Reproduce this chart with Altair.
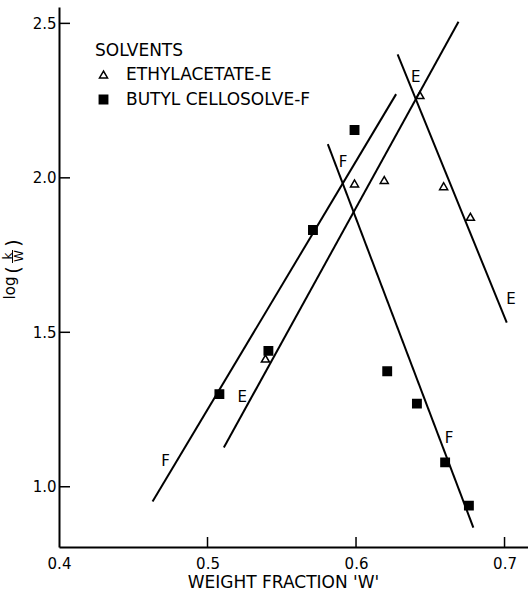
import altair as alt
import pandas as pd

# --- data ---
series_names = ["ETHYLACETATE-E", "BUTYL CELLOSOLVE-F"]

tri_x = [0.539, 0.599, 0.619, 0.643, 0.659, 0.677]
tri_y = [1.415, 1.982, 1.993, 2.268, 1.973, 1.874]

sq_x = [0.508, 0.541, 0.571, 0.599, 0.621, 0.641, 0.660, 0.676]
sq_y = [1.300, 1.440, 1.831, 2.155, 1.374, 1.269, 1.079, 0.939]

line_x1 = [0.463, 0.511, 0.581, 0.628]
line_y1 = [0.952, 1.127, 2.109, 2.400]
line_x2 = [0.627, 0.669, 0.679, 0.7015]
line_y2 = [2.271, 2.505, 0.868, 1.531]

lab_text = ["F", "E", "F", "E", "E", "F"]
lab_x = [0.4718, 0.5234, 0.5912, 0.6402, 0.7044, 0.6626]
lab_y = [1.083, 1.290, 2.052, 2.325, 1.607, 1.157]

x_ticks = [0.4, 0.5, 0.6, 0.7]
y_ticks = [1.0, 1.5, 2.0, 2.5]

x_domain = [0.4, 0.7158]
y_domain = [0.805, 2.553]

W, H = 469, 540
FONT = "DejaVu Sans"

pts = pd.DataFrame({
    "x": tri_x + sq_x,
    "y": tri_y + sq_y,
    "solvent": [series_names[0]] * len(tri_x) + [series_names[1]] * len(sq_x),
})
segs = pd.DataFrame({"x": line_x1, "y": line_y1, "x2": line_x2, "y2": line_y2})
labs = pd.DataFrame({"t": lab_text, "x": lab_x, "y": lab_y})
xt = pd.DataFrame({"v": x_ticks[1:]})
yt = pd.DataFrame({"v": y_ticks})

xs = alt.Scale(domain=x_domain, nice=False, zero=False)
ys = alt.Scale(domain=y_domain, nice=False, zero=False)

xaxis = alt.Axis(values=x_ticks, format=".1f", labelFlush=False, labelPadding=9,
                 title="WEIGHT FRACTION 'W'", titleX=224, titlePadding=3)
yaxis = alt.Axis(values=y_ticks, format=".1f", labelPadding=3, title=None)

legend = alt.Legend(title="SOLVENTS", orient="none", legendX=36, legendY=36,
                    labelOffset=14, rowPadding=7, titlePadding=6, labelLimit=400,
                    symbolStrokeWidth=1.5, padding=0)

lines = alt.Chart(segs).mark_rule(color="black", strokeWidth=2).encode(
    x=alt.X("x:Q", scale=xs, axis=xaxis),
    y=alt.Y("y:Q", scale=ys, axis=yaxis),
    x2="x2:Q", y2="y2:Q",
)

points = alt.Chart(pts).mark_point(filled=True, strokeWidth=1.5, opacity=1).encode(
    x=alt.X("x:Q", scale=xs),
    y=alt.Y("y:Q", scale=ys),
    shape=alt.Shape("solvent:N", scale=alt.Scale(domain=series_names, range=["triangle-up", "square"]), legend=legend),
    fill=alt.Fill("solvent:N", scale=alt.Scale(domain=series_names, range=["transparent", "black"]), legend=legend),
    stroke=alt.Stroke("solvent:N", scale=alt.Scale(domain=series_names, range=["black", "black"]), legend=legend),
    size=alt.Size("solvent:N", scale=alt.Scale(domain=series_names, range=[65, 70]), legend=legend),
)

texts = alt.Chart(labs).mark_text(font=FONT, fontSize=15, color="black").encode(
    x=alt.X("x:Q", scale=xs), y=alt.Y("y:Q", scale=ys), text="t:N"
)

xtick = alt.Chart(xt).mark_rule(color="black", strokeWidth=1.5).encode(
    x=alt.X("v:Q", scale=xs), y=alt.value(H), y2=alt.value(H - 10)
)
ytick = alt.Chart(yt).mark_rule(color="black", strokeWidth=1.5).encode(
    y=alt.Y("v:Q", scale=ys), x=alt.value(0), x2=alt.value(11)
)

# y-axis title: log (k / W), rotated
def ttext(s, x, y, size):
    return alt.Chart(pd.DataFrame({"s": [s]})).mark_text(
        font=FONT, fontSize=size, angle=270, color="black", align="center", baseline="middle"
    ).encode(text="s:N", x=alt.value(x), y=alt.value(y))

ytitle = [
    ttext("log", -49, 281, 15),
    ttext("(", -45.5, 263, 19),
    ttext(")", -45.5, 236, 19),
    ttext("k", -51.5, 249, 12),
    ttext("W", -40.5, 249, 12),
]
ybar = alt.Chart(pd.DataFrame({"a": [0]})).mark_rule(color="black", strokeWidth=1).encode(
    x=alt.value(-46.5), y=alt.value(243), y2=alt.value(256)
)

chart = alt.layer(lines, xtick, ytick, points, texts, *ytitle, ybar).properties(
    width=W, height=H,
    padding={"left": 59, "top": 7, "right": 0, "bottom": 44},
    autosize=alt.AutoSizeParams(type="none"),
    background="white",
).configure_view(stroke=None).configure_axis(
    grid=False, ticks=False, tickSize=0, domainColor="black", domainWidth=2,
    labelFont=FONT, labelFontSize=15, labelColor="black",
    titleFont=FONT, titleFontSize=17, titleFontWeight="normal", titleColor="black",
).configure_legend(
    labelFont=FONT, labelFontSize=17, labelColor="black",
    titleFont=FONT, titleFontSize=17, titleFontWeight="normal", titleColor="black",
)

chart.save("out.html", embed_options={"renderer": "svg", "actions": False})
